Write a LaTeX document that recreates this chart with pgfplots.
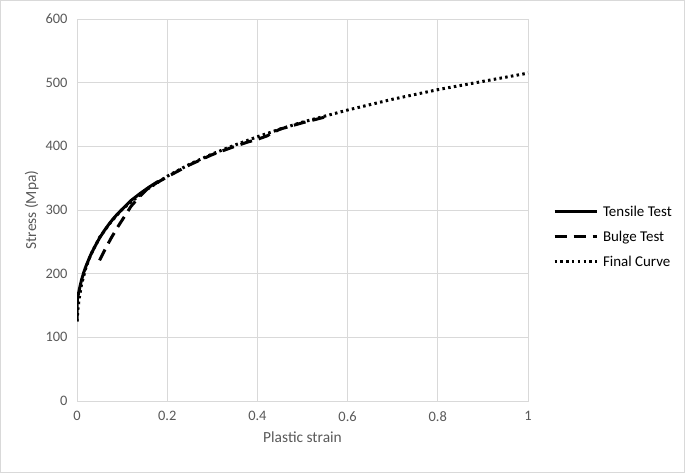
\documentclass[border=0pt]{standalone}
\usepackage{pgfplots}
\pgfplotsset{compat=1.18}
\usepackage{fontspec}
\setmainfont{Carlito}
\definecolor{txt}{HTML}{595959}
\definecolor{grd}{HTML}{D9D9D9}
\begin{document}
\begin{tikzpicture}[x=1bp,y=1bp]
\path[use as bounding box] (0,0) rectangle (685,473);
\draw[grd,line width=0.8bp] (0.5,0.5) rectangle (684.5,472.5);
\begin{axis}[
  at={(77bp,72bp)}, anchor=south west,
  scale only axis, width=451bp, height=382bp,
  xmin=0, xmax=1, ymin=0, ymax=600,
  xtick={0,0.2,0.4,0.6,0.8,1}, ytick={0,100,...,600},
  xticklabels={0,0.2,0.4,0.6,0.8,1},
  grid=major, grid style={grd, line width=0.8bp},
  axis line style={grd, line width=0.8bp},
  major tick length=0pt,
  tick label style={font=\fontsize{14.5}{16}\selectfont, text=txt},
  /pgf/number format/assume math mode=true,
  xticklabel style={yshift=-7bp},
  yticklabel style={xshift=-6bp},
  xlabel={Plastic strain}, ylabel={Stress (Mpa)},
  label style={font=\fontsize{15.5}{17}\selectfont, text=txt},
  xlabel style={yshift=-3bp},
  ylabel style={yshift=0bp},
  legend style={at={(1.055,0.43)}, anchor=west, draw=none, fill=none,
    font=\fontsize{15}{17}\selectfont, text=black, row sep=9bp,
    inner xsep=0pt},
  legend cell align=left,
  legend image code/.code={\draw[#1] (0bp,0bp) -- (42bp,0bp);},
]
\addplot[black, line width=3bp, line join=round] coordinates {
(0,125) (0,150) (0.001,160) (0.003,168) (0.006,178) (0.01,190) (0.015,202)
(0.02,212) (0.03,229) (0.04,243) (0.05,256) (0.06,267) (0.07,277) (0.08,286)
(0.09,294) (0.1,301) (0.12,315) (0.14,326) (0.16,336) (0.18,345)};
\addlegendentry{\hspace{3bp}Tensile Test}
\addplot[black, line width=3bp, dash pattern=on 12bp off 7bp, line join=round] coordinates {
(0.05,221) (0.06,235) (0.075,255) (0.09,273) (0.1,284) (0.12,306) (0.14,322)
(0.16,336) (0.2,352) (0.25,371) (0.3,387) (0.35,400) (0.38,407) (0.4,411)
(0.42,416) (0.45,427) (0.5,437) (0.55,446)};
\addlegendentry{\hspace{3bp}Bulge Test}
\addplot[black, line width=3bp, dash pattern=on 2.5bp off 3.3bp] coordinates {
(0,125) (0.002,144) (0.005,162) (0.01,183) (0.02,210) (0.03,229) (0.05,257)
(0.075,281) (0.1,301) (0.15,330) (0.2,353) (0.25,372) (0.3,388) (0.35,402)
(0.4,415) (0.45,427) (0.5,438) (0.6,457) (0.7,474) (0.8,489) (0.9,502) (1,515)};
\addlegendentry{\hspace{3bp}Final Curve}
\end{axis}
\end{tikzpicture}
\end{document}
